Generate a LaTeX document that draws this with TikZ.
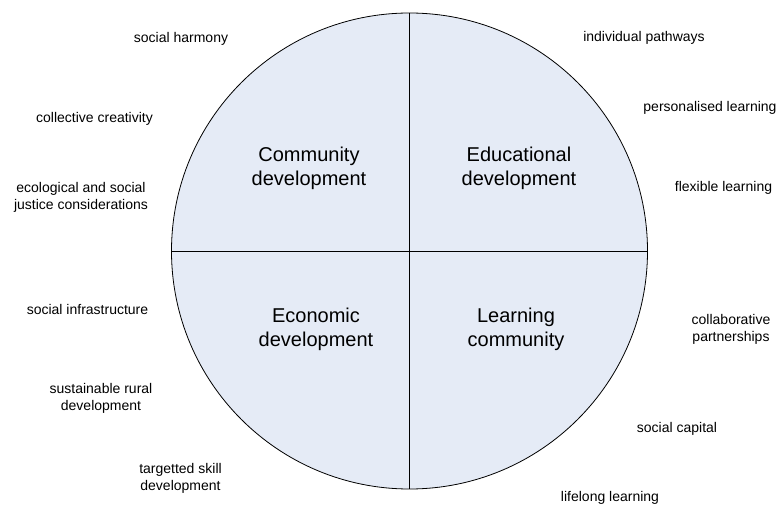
\documentclass[tikz,border=0pt]{standalone}
\usepackage{fontspec}
\setmainfont{Liberation Sans}
\definecolor{quadfill}{RGB}{229,235,246}
\tikzset{
  small/.style={font=\fontsize{14}{17}\selectfont, align=center, inner sep=0pt},
  big/.style={font=\fontsize{20}{24}\selectfont, align=center, inner sep=0pt},
}
\begin{document}
\begin{tikzpicture}[x=1pt,y=-1pt]
\useasboundingbox (0,0) rectangle (777,505);
\node[circle, draw=black, line width=0.8pt, fill=quadfill, minimum size=476pt, inner sep=0pt] (circ) at (409.5,251) {};
\draw[line width=0.9pt] (circ.north) -- (circ.south);
\draw[line width=0.9pt] (circ.west) -- (circ.east);
\node[big] (comm) at (309,168) {Community\\development};
\node[big] (edu) at (519,168) {Educational\\development};
\node[big] (econ) at (316,329) {Economic\\development};
\node[big] (learn) at (516,329) {Learning\\community};
\node[small] (l1) at (181,39) {social harmony};
\node[small] (l2) at (94.5,119) {collective creativity};
\node[small] (l3) at (81,197) {ecological and social\\justice considerations};
\node[small] (l4) at (87.5,309) {social infrastructure};
\node[small] (l5) at (101,398) {sustainable rural\\development};
\node[small] (l6) at (180.5,478) {targetted skill\\development};
\node[small] (r1) at (644,38) {individual pathways};
\node[small] (r2) at (710,108) {personalised learning};
\node[small] (r3) at (723.5,188) {flexible learning};
\node[small] (r4) at (731,329.5) {collaborative\\partnerships};
\node[small] (r5) at (677,429) {social capital};
\node[small] (r6) at (610,498) {lifelong learning};
\end{tikzpicture}
\end{document}
